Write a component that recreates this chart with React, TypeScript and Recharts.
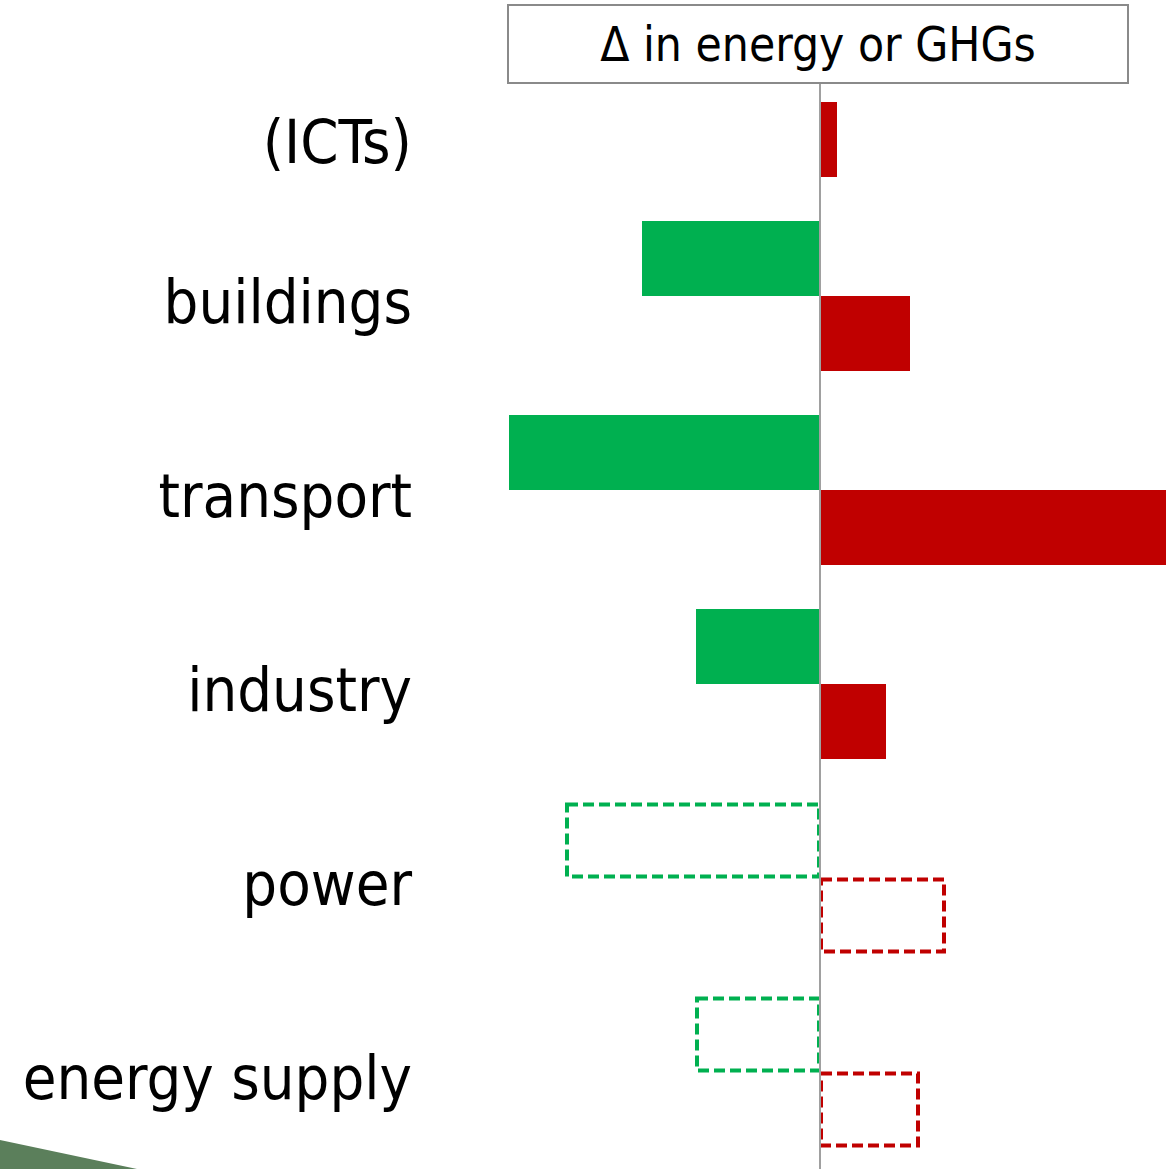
import { BarChart, Bar, XAxis, YAxis, ReferenceLine } from "recharts";

const sectors = ["(ICTs)", "buildings", "transport", "industry", "power", "energy supply"];
// decrease (green, upper bar) and increase (red, lower bar) per sector
const decrease = [0, -17.8, -31.1, -12.4, -25.4, -12.4];
const increase = [1.7, 9.0, 36.0, 6.6, 12.5, 9.9];
// sectors drawn as dashed outlines (indirect effects)
const dashed = [false, false, false, false, true, true];

const GREEN = "#00b050";
const RED = "#c00000";
const FONT = "'DejaVu Sans Condensed', 'DejaVu Sans', sans-serif";

const data = sectors.map((name, i) => ({
  name,
  decrease: decrease[i],
  increase: increase[i],
  dashed: dashed[i],
}));

function SectorTick(props: any) {
  const { x, y, payload, index } = props;
  // a sector with only one bar gets its label centred on that bar
  const shift = data[index] && data[index].decrease === 0 ? 40 : 6;
  return (
    <text
      x={x - 80}
      y={y + shift}
      dy="0.35em"
      textAnchor="end"
      fontFamily={FONT}
      fontSize={61}
      fill="#000"
    >
      {payload.value}
    </text>
  );
}

// solid bar, or a dashed outline for the indirect sectors
function makeShape(color: string) {
  return (props: any) => {
    let { x, y, width, height, payload } = props;
    if (width < 0) {
      x += width;
      width = -width;
    }
    if (!width || !height) return <g />;
    if (payload && payload.dashed) {
      return (
        <rect
          x={x + 1}
          y={y + 1.5}
          width={Math.max(width - 2, 0)}
          height={height - 3}
          fill="none"
          stroke={color}
          strokeWidth={4}
          strokeDasharray="11 5"
        />
      );
    }
    return <rect x={x} y={y} width={width} height={height} fill={color} />;
  };
}

export default function App() {
  return (
    <div
      style={{
        position: "relative",
        width: 1166,
        height: 1169,
        overflow: "hidden",
        background: "#fff",
      }}
    >
      <style>{`body{margin:0}`}</style>
      <BarChart
        width={1170}
        height={1169}
        data={data}
        layout="vertical"
        margin={{ top: 5, right: 0, left: 0, bottom: 0 }}
        barSize={75}
        barGap={0}
        barCategoryGap={44}
      >
        <XAxis type="number" domain={[-32, 35]} allowDataOverflow hide />
        <YAxis
          type="category"
          dataKey="name"
          width={500}
          axisLine={false}
          tickLine={false}
          tick={<SectorTick />}
          interval={0}
        />
        <ReferenceLine x={0} stroke="#a0a0a0" strokeWidth={2} />
        <Bar
          dataKey="decrease"
          fill={GREEN}
          shape={makeShape(GREEN)}
          isAnimationActive={false}
        />
        <Bar
          dataKey="increase"
          fill={RED}
          shape={makeShape(RED)}
          isAnimationActive={false}
        />
      </BarChart>
      <div
        style={{
          position: "absolute",
          left: 507,
          top: 4,
          width: 618,
          height: 76,
          border: "2px solid #8a8a8a",
          background: "#fff",
          display: "flex",
          alignItems: "center",
          justifyContent: "center",
          fontFamily: FONT,
          fontSize: 47.5,
          color: "#000",
        }}
      >
        Δ in energy or GHGs
      </div>
      <svg
        width={160}
        height={40}
        style={{ position: "absolute", left: 0, top: 1135 }}
      >
        <polygon points="0,5 137,34 0,34" fill="#5b7f5b" />
      </svg>
    </div>
  );
}
